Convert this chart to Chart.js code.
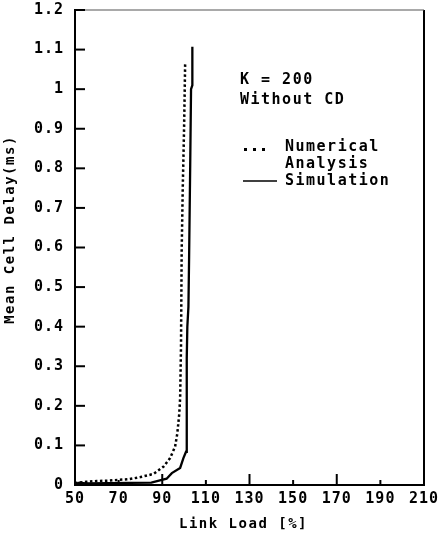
<!DOCTYPE html>
<html><head><meta charset="utf-8">
<script src="https://cdn.jsdelivr.net/npm/chart.js@4"></script>
<style>html,body{margin:0;padding:0;background:#fff}#wrap{width:442px;height:536px}</style>
</head><body><div id="wrap"><canvas id="c" width="442" height="536"></canvas></div>
<script>
// ---- data ----
const numLoad  = [50, 55, 60, 65, 70, 75, 80, 86, 90.5, 93.6, 95.9, 96.9, 97.8, 98.2, 98.6, 98.9, 99.4, 100, 100.5];
const numDelay = [0.005, 0.008, 0.01, 0.011, 0.013, 0.015, 0.02, 0.028, 0.046, 0.068, 0.097, 0.13, 0.18, 0.22, 0.35, 0.59, 0.75, 0.9, 1.066];
const simLoad  = [50, 52, 55, 85, 89.8, 92, 94.4, 98.2, 99.7, 100.9, 101.2, 101.3, 101.2, 101.5, 102, 102.3, 102.8, 103.2, 103.8, 103.8];
const simDelay = [0.002, 0.006, 0.004, 0.006, 0.013, 0.016, 0.03, 0.043, 0.068, 0.084, 0.09, 0.2, 0.32, 0.40, 0.45, 0.57, 0.8, 1.0, 1.01, 1.107];
const xTickValues = [50, 70, 90, 110, 130, 150, 170, 190, 210];
const yTickLabels = ['0','0.1','0.2','0.3','0.4','0.5','0.6','0.7','0.8','0.9','1','1.1','1.2'];
const xTitle = 'Link Load [%]';
const yTitle = 'Mean Cell Delay(ms)';
const noteLines = ['K = 200', 'Without CD'];
const seriesNames = ['Numerical Analysis', 'Simulation'];

const FONT = "'DejaVu Sans Mono', monospace";

const decor = {
  id: 'decor',
  beforeLayout(chart){ chart.ctx.letterSpacing = '1px'; },
  beforeDraw(chart){ chart.ctx.letterSpacing = '1px'; },
  afterDraw(chart){
    const {ctx, chartArea:a, scales:{x, y}} = chart;
    ctx.save();
    ctx.letterSpacing = '1.5px';
    // frame: right and top edges
    ctx.strokeStyle = '#000'; ctx.lineWidth = 2;
    ctx.beginPath(); ctx.moveTo(a.right, a.top); ctx.lineTo(a.right, a.bottom); ctx.stroke();
    ctx.strokeStyle = '#555'; ctx.lineWidth = 1.2;
    ctx.beginPath(); ctx.moveTo(a.left, a.top); ctx.lineTo(a.right, a.top); ctx.stroke();
    // inner ticks
    ctx.strokeStyle = '#000'; ctx.lineWidth = 2;
    y.ticks.forEach(t => {
      const py = y.getPixelForValue(t.value);
      ctx.beginPath(); ctx.moveTo(a.left, py); ctx.lineTo(a.left + 10, py); ctx.stroke();
    });
    x.ticks.forEach((t, i) => {
      const px = x.getPixelForValue(t.value);
      const len = (i % 2 === 0) ? 11 : 5;
      ctx.beginPath(); ctx.moveTo(px, a.bottom); ctx.lineTo(px, a.bottom - len); ctx.stroke();
    });
    // axis titles
    ctx.fillStyle = '#000';
    ctx.font = "bold 14px " + FONT;
    ctx.textAlign = 'center'; ctx.textBaseline = 'middle';
    ctx.fillText(xTitle, (a.left + a.right) / 2 - 6, a.bottom + 39);
    ctx.save();
    ctx.translate(10, (a.top + a.bottom) / 2 - 18);
    ctx.rotate(-Math.PI / 2);
    ctx.fillText(yTitle, 0, 0);
    ctx.restore();
    // annotation + legend
    ctx.textAlign = 'left';
    ctx.font = "bold 15px " + FONT;
    const lx = a.left + 165;
    ctx.fillText(noteLines[0], lx, a.top + 70);
    ctx.fillText(noteLines[1], lx, a.top + 90);
    const words = seriesNames[0].split(' ');
    ctx.fillText(words[0], lx + 45, a.top + 137);
    ctx.fillText(words[1], lx + 45, a.top + 154);
    ctx.fillText(seriesNames[1], lx + 45, a.top + 171);
    // legend samples
    [0, 1, 2].forEach(k => ctx.fillRect(lx + 4 + k * 9, a.top + 138, 3, 3));
    ctx.lineWidth = 1.5;
    ctx.beginPath(); ctx.moveTo(lx + 3, a.top + 171); ctx.lineTo(lx + 37, a.top + 171); ctx.stroke();
    ctx.restore();
  }
};

new Chart(document.getElementById('c'), {
  type: 'line',
  data: {
    datasets: [
      {
        label: seriesNames[0],
        data: numLoad.map((v, i) => ({x: v, y: numDelay[i]})),
        borderColor: '#000', borderWidth: 2.5, borderDash: [2.5, 2.5],
        pointRadius: 0, tension: 0, fill: false
      },
      {
        label: seriesNames[1],
        data: simLoad.map((v, i) => ({x: v, y: simDelay[i]})),
        borderColor: '#000', borderWidth: 2.3,
        pointRadius: 0, tension: 0, fill: false
      }
    ]
  },
  options: {
    responsive: false, animation: false, devicePixelRatio: 1,
    layout: { padding: { top: 10, right: 18, left: 0, bottom: 0 } },
    plugins: { legend: { display: false }, tooltip: { enabled: false } },
    scales: {
      x: {
        type: 'linear', min: 50, max: 210,
        afterBuildTicks: s => { s.ticks = xTickValues.map(v => ({value: v})); },
        afterFit: s => { s.height = 51; s.paddingRight = 0; s.paddingLeft = 0; },
        grid: { display: false, drawTicks: false },
        border: { display: true, color: '#000', width: 2 },
        ticks: { color: '#000', padding: 5, maxRotation: 0, autoSkip: false,
                 font: { family: FONT, size: 15, weight: 'bold' } }
      },
      y: {
        type: 'linear', min: 0, max: 1.2,
        afterBuildTicks: s => { s.ticks = yTickLabels.map((l, i) => ({value: i / 10})); },
        afterFit: s => { s.width = 75; s.paddingTop = 0; s.paddingBottom = 0; },
        grid: { display: false, drawTicks: false },
        border: { display: true, color: '#000', width: 2 },
        ticks: { color: '#000', padding: 11, autoSkip: false,
                 callback: (v, i) => yTickLabels[i],
                 font: { family: FONT, size: 15, weight: 'bold' } }
      }
    }
  },
  plugins: [decor]
});
</script>
</body></html>
